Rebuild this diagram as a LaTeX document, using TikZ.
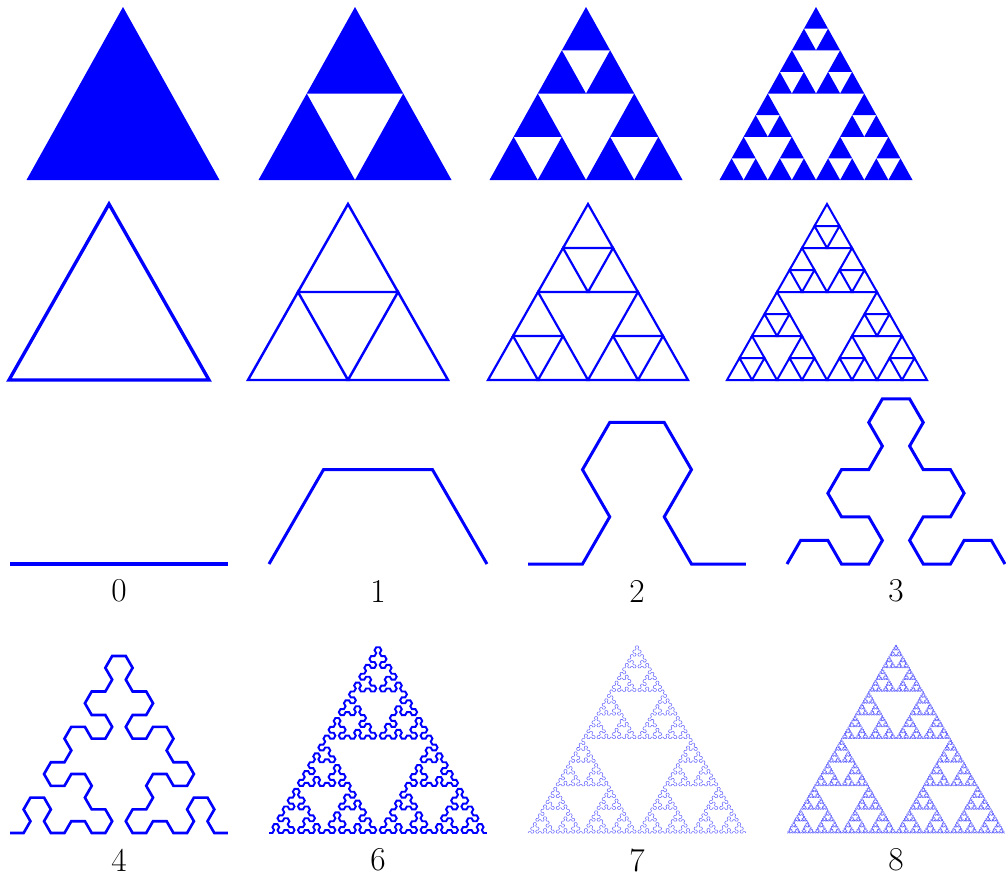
\documentclass[tikz,border=0pt]{standalone}
\usetikzlibrary{lindenmayersystems}
\tikzset{
	solidtri/.style={fill=blue},
	hollowtri/.style={draw=blue, line join=miter}
}
\tikzset{
	levellabel/.style={font=\fontsize{19pt}{22pt}\selectfont, inner sep=0pt}
}
\pgfdeclarelindenmayersystem{arrowhead}{
  \symbol{A}{\pgflsystemdrawforward}
  \symbol{B}{\pgflsystemdrawforward}
  \rule{A -> B-A-B}
  \rule{B -> A+B+A}
}
% gasket: level, left x, base y, width, height, style
\newcommand{\gasket}[6]{%
  \begingroup
  \pgfmathsetmacro\gx{#2}%
  \pgfmathsetmacro\gy{#3}%
  \pgfmathsetmacro\gw{#4}%
  \pgfmathsetmacro\gh{#5}%
  \ifnum#1=0
    \path[#6] (\gx,\gy) -- ++(\gw,0) -- ++(-\gw/2,\gh) -- cycle;
  \else
    \pgfmathtruncatemacro\sublvl{#1-1}%
    \pgfmathsetmacro\subw{\gw/2}%
    \pgfmathsetmacro\subh{\gh/2}%
    \pgfmathsetmacro\rightx{\gx+\subw}%
    \pgfmathsetmacro\topx{\gx+\subw/2}%
    \pgfmathsetmacro\topy{\gy+\subh}%
    \gasket{\sublvl}{\gx}{\gy}{\subw}{\subh}{#6}%
    \gasket{\sublvl}{\rightx}{\gy}{\subw}{\subh}{#6}%
    \gasket{\sublvl}{\topx}{\topy}{\subw}{\subh}{#6}%
  \fi
  \endgroup}

\begin{document}
\begin{tikzpicture}[x=0.02cm, y=0.02cm]
      \useasboundingbox (0,0) rectangle (1006,-877);
      % filled triangles
      \foreach \n/\cx in {0/123, 1/355, 2/586, 3/816}{
        \gasket{\n}{\cx-96.5}{-180}{193}{173}{solidtri}
      }
      % outlined triangles
      \foreach \n/\cx/\lw in {0/109/1.9pt, 1/348/1.4pt, 2/588/1.25pt, 3/827/1.15pt}{
        \gasket{\n}{\cx-100}{-380}{200}{176}{hollowtri, line width=\lw}
      }
      % arrowhead curves with their order below
      \foreach \n/\x/\y/\lw/\col in {0/10/564/2.3pt/blue, 1/269/564/1.7pt/blue, 2/528/564/1.7pt/blue,
                                     3/787/564/1.7pt/blue, 4/10/833/1.5pt/blue, 6/269/833/1.1pt/blue,
                                     7/528/833/0.3pt/blue!60, 8/787/833/0.3pt/blue!65}{
        \pgfmathsetmacro\stepcm{4.36/2^\n}
        \pgfmathsetmacro\rot{60*mod(\n,2)}
        \draw[\col, line width=\lw, shift={(\x,-\y)}, rotate=\rot,
              l-system={arrowhead, axiom=A, order=\n, step=\stepcm cm, angle=60}] (0,0) lindenmayer system;
        \node[levellabel] (lab\n) at (\x+109,-\y-27) {\n};
      }
    \end{tikzpicture}
\end{document}
